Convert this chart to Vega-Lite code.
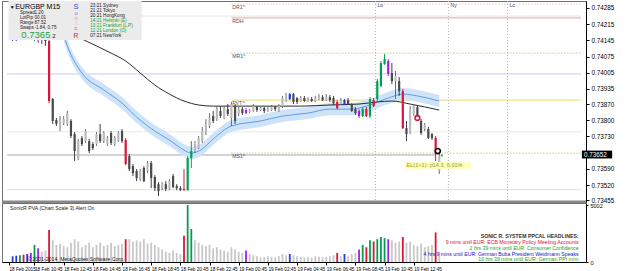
{
"$schema":"https://vega.github.io/schema/vega-lite/v6.json",
"padding":0,
"bounds":"flush",
"spacing":1,
"background":"#ffffff",
"config":{
 "view":{"stroke":"#707070","strokeWidth":1},
 "axis":{"labelFont":"Liberation Sans","labelFontSize":6.3,"labelColor":"#000000","domainColor":"#000000","tickColor":"#000000","tickSize":3,"grid":false,"title":null,"labelOverlap":false},
 "text":{"font":"Liberation Sans"}
},
"resolve":{"scale":{"x":"independent","y":"independent","fill":"independent","stroke":"independent","color":"independent"}},
"datasets":{
"bars":[
{"k":2,"o":0.74151,"h":0.74172,"l":0.74142,"c":0.74164,"t":"blue","v":500},
{"k":3,"o":0.74164,"h":0.74172,"l":0.74142,"c":0.74155,"t":"blue","v":550},
{"k":4,"o":0.74155,"h":0.74181,"l":0.74147,"c":0.74168,"t":"green","v":600},
{"k":5,"o":0.74168,"h":0.74185,"l":0.74151,"c":0.74159,"t":"red","v":650},
{"k":6,"o":0.74159,"h":0.74185,"l":0.74151,"c":0.74172,"t":"blue","v":700},
{"k":7,"o":0.74172,"h":0.74181,"l":0.74155,"c":0.74164,"t":"purple","v":800},
{"k":8,"o":0.74164,"h":0.74172,"l":0.74142,"c":0.74155,"t":"green","v":1500},
{"k":9,"o":0.74155,"h":0.74168,"l":0.74134,"c":0.74159,"t":"purple","v":1200},
{"k":10,"o":0.74159,"h":0.74168,"l":0.74129,"c":0.74151,"t":"dn","v":900},
{"k":11,"o":0.74151,"h":0.74164,"l":0.74121,"c":0.74142,"t":"dn","v":1000},
{"k":12,"o":0.74142,"h":0.74151,"l":0.73874,"c":0.73883,"t":"red","v":2800},
{"k":13,"o":0.73892,"h":0.73896,"l":0.73784,"c":0.73797,"t":"dn","v":1900},
{"k":14,"o":0.73801,"h":0.73810,"l":0.73775,"c":0.73784,"t":"dn","v":1500},
{"k":15,"o":0.73788,"h":0.73818,"l":0.73753,"c":0.73801,"t":"up","v":1600},
{"k":16,"o":0.73788,"h":0.73818,"l":0.73779,"c":0.73805,"t":"up","v":1400},
{"k":17,"o":0.73784,"h":0.73840,"l":0.73775,"c":0.73831,"t":"up","v":1300},
{"k":18,"o":0.73797,"h":0.73805,"l":0.73723,"c":0.73732,"t":"dn","v":1700},
{"k":19,"o":0.73740,"h":0.73749,"l":0.73624,"c":0.73667,"t":"dn","v":2000},
{"k":20,"o":0.73632,"h":0.73719,"l":0.73628,"c":0.73710,"t":"up","v":1800},
{"k":21,"o":0.73723,"h":0.73732,"l":0.73689,"c":0.73697,"t":"dn","v":1300},
{"k":22,"o":0.73710,"h":0.73762,"l":0.73702,"c":0.73753,"t":"up","v":1500},
{"k":23,"o":0.73710,"h":0.73719,"l":0.73658,"c":0.73667,"t":"dn","v":1700},
{"k":24,"o":0.73697,"h":0.73706,"l":0.73671,"c":0.73680,"t":"dn","v":1300},
{"k":25,"o":0.73697,"h":0.73749,"l":0.73689,"c":0.73740,"t":"up","v":1500},
{"k":26,"o":0.73740,"h":0.73784,"l":0.73702,"c":0.73710,"t":"dn","v":1700},
{"k":27,"o":0.73710,"h":0.73753,"l":0.73702,"c":0.73745,"t":"up","v":1400},
{"k":28,"o":0.73697,"h":0.73732,"l":0.73689,"c":0.73723,"t":"up","v":1500},
{"k":29,"o":0.73745,"h":0.73753,"l":0.73693,"c":0.73702,"t":"dn","v":1700},
{"k":30,"o":0.73697,"h":0.73732,"l":0.73689,"c":0.73723,"t":"up","v":1400},
{"k":31,"o":0.73710,"h":0.73753,"l":0.73706,"c":0.73745,"t":"up","v":1500},
{"k":32,"o":0.73753,"h":0.73762,"l":0.73702,"c":0.73710,"t":"dn","v":1600},
{"k":33,"o":0.73715,"h":0.73723,"l":0.73606,"c":0.73611,"t":"red","v":2000},
{"k":34,"o":0.73645,"h":0.73654,"l":0.73581,"c":0.73589,"t":"dn","v":2000},
{"k":35,"o":0.73602,"h":0.73611,"l":0.73559,"c":0.73572,"t":"dn","v":1800},
{"k":36,"o":0.73581,"h":0.73589,"l":0.73537,"c":0.73550,"t":"dn","v":1900},
{"k":37,"o":0.73546,"h":0.73589,"l":0.73537,"c":0.73581,"t":"up","v":1800},
{"k":38,"o":0.73594,"h":0.73602,"l":0.73533,"c":0.73537,"t":"dn","v":2000},
{"k":39,"o":0.73581,"h":0.73624,"l":0.73572,"c":0.73615,"t":"up","v":1600},
{"k":40,"o":0.73615,"h":0.73624,"l":0.73507,"c":0.73550,"t":"dn","v":1700},
{"k":41,"o":0.73555,"h":0.73563,"l":0.73494,"c":0.73507,"t":"dn","v":1500},
{"k":42,"o":0.73524,"h":0.73533,"l":0.73473,"c":0.73494,"t":"dn","v":1300},
{"k":43,"o":0.73507,"h":0.73533,"l":0.73498,"c":0.73524,"t":"up","v":1100},
{"k":44,"o":0.73524,"h":0.73537,"l":0.73494,"c":0.73503,"t":"dn","v":900},
{"k":45,"o":0.73503,"h":0.73546,"l":0.73498,"c":0.73537,"t":"up","v":800},
{"k":46,"o":0.73559,"h":0.73568,"l":0.73507,"c":0.73511,"t":"dn","v":1000},
{"k":47,"o":0.73516,"h":0.73524,"l":0.73498,"c":0.73507,"t":"dn","v":800},
{"k":48,"o":0.73507,"h":0.73516,"l":0.73494,"c":0.73498,"t":"dn","v":700},
{"k":49,"o":0.73503,"h":0.73589,"l":0.73496,"c":0.73498,"t":"red","v":2300},
{"k":50,"o":0.73498,"h":0.73645,"l":0.73496,"c":0.73637,"t":"green","v":5000},
{"k":51,"o":0.73637,"h":0.73710,"l":0.73594,"c":0.73667,"t":"green","v":2900},
{"k":52,"o":0.73667,"h":0.73710,"l":0.73658,"c":0.73702,"t":"up","v":1900},
{"k":53,"o":0.73680,"h":0.73732,"l":0.73676,"c":0.73723,"t":"up","v":1700},
{"k":54,"o":0.73710,"h":0.73771,"l":0.73702,"c":0.73753,"t":"up","v":1500},
{"k":55,"o":0.73749,"h":0.73805,"l":0.73736,"c":0.73784,"t":"up","v":1400},
{"k":56,"o":0.73775,"h":0.73831,"l":0.73766,"c":0.73810,"t":"up","v":1500},
{"k":57,"o":0.73818,"h":0.73840,"l":0.73788,"c":0.73797,"t":"dn","v":1200},
{"k":58,"o":0.73805,"h":0.73861,"l":0.73797,"c":0.73848,"t":"up","v":1300},
{"k":59,"o":0.73840,"h":0.73861,"l":0.73810,"c":0.73818,"t":"dn","v":1100},
{"k":60,"o":0.73810,"h":0.73861,"l":0.73805,"c":0.73853,"t":"up","v":1000},
{"k":61,"o":0.73848,"h":0.73870,"l":0.73818,"c":0.73827,"t":"dn","v":900},
{"k":62,"o":0.73810,"h":0.73879,"l":0.73775,"c":0.73870,"t":"up","v":1300},
{"k":63,"o":0.73861,"h":0.73870,"l":0.73784,"c":0.73797,"t":"dn","v":1100},
{"k":64,"o":0.73827,"h":0.73857,"l":0.73818,"c":0.73848,"t":"up","v":900},
{"k":65,"o":0.73848,"h":0.73857,"l":0.73823,"c":0.73831,"t":"dn","v":800},
{"k":66,"o":0.73844,"h":0.73853,"l":0.73827,"c":0.73831,"t":"purple","v":1000},
{"k":67,"o":0.73836,"h":0.73848,"l":0.73831,"c":0.73840,"t":"up","v":700},
{"k":68,"o":0.73840,"h":0.73870,"l":0.73836,"c":0.73861,"t":"up","v":600},
{"k":69,"o":0.73857,"h":0.73861,"l":0.73836,"c":0.73844,"t":"dn","v":500},
{"k":70,"o":0.73844,"h":0.73861,"l":0.73840,"c":0.73853,"t":"up","v":400},
{"k":71,"o":0.73853,"h":0.73857,"l":0.73831,"c":0.73840,"t":"dn","v":450},
{"k":72,"o":0.73840,"h":0.73857,"l":0.73836,"c":0.73848,"t":"up","v":500},
{"k":73,"o":0.73844,"h":0.73866,"l":0.73840,"c":0.73857,"t":"up","v":450},
{"k":74,"o":0.73857,"h":0.73861,"l":0.73840,"c":0.73848,"t":"dn","v":400},
{"k":75,"o":0.73840,"h":0.73870,"l":0.73836,"c":0.73861,"t":"up","v":500},
{"k":76,"o":0.73861,"h":0.73905,"l":0.73853,"c":0.73896,"t":"up","v":700},
{"k":77,"o":0.73883,"h":0.73918,"l":0.73879,"c":0.73909,"t":"up","v":600},
{"k":78,"o":0.73892,"h":0.73918,"l":0.73887,"c":0.73913,"t":"blue","v":700},
{"k":79,"o":0.73913,"h":0.73918,"l":0.73870,"c":0.73879,"t":"dn","v":600},
{"k":80,"o":0.73896,"h":0.73900,"l":0.73870,"c":0.73879,"t":"dn","v":500},
{"k":81,"o":0.73883,"h":0.73905,"l":0.73879,"c":0.73896,"t":"up","v":450},
{"k":82,"o":0.73896,"h":0.73905,"l":0.73879,"c":0.73883,"t":"dn","v":400},
{"k":83,"o":0.73883,"h":0.73900,"l":0.73879,"c":0.73892,"t":"up","v":450},
{"k":84,"o":0.73892,"h":0.73900,"l":0.73879,"c":0.73883,"t":"dn","v":400},
{"k":85,"o":0.73883,"h":0.73905,"l":0.73879,"c":0.73896,"t":"up","v":500},
{"k":86,"o":0.73892,"h":0.73913,"l":0.73887,"c":0.73900,"t":"up","v":450},
{"k":87,"o":0.73900,"h":0.73909,"l":0.73883,"c":0.73887,"t":"dn","v":400},
{"k":88,"o":0.73887,"h":0.73913,"l":0.73883,"c":0.73900,"t":"up","v":450},
{"k":89,"o":0.73900,"h":0.73909,"l":0.73879,"c":0.73887,"t":"dn","v":500},
{"k":90,"o":0.73896,"h":0.73905,"l":0.73866,"c":0.73874,"t":"dn","v":600},
{"k":91,"o":0.73879,"h":0.73887,"l":0.73848,"c":0.73853,"t":"red","v":800},
{"k":92,"o":0.73870,"h":0.73896,"l":0.73866,"c":0.73887,"t":"up","v":500},
{"k":93,"o":0.73870,"h":0.73892,"l":0.73866,"c":0.73887,"t":"blue","v":700},
{"k":94,"o":0.73887,"h":0.73896,"l":0.73866,"c":0.73870,"t":"dn","v":500},
{"k":95,"o":0.73870,"h":0.73874,"l":0.73836,"c":0.73840,"t":"dn","v":700},
{"k":96,"o":0.73848,"h":0.73857,"l":0.73823,"c":0.73831,"t":"dn","v":800},
{"k":97,"o":0.73840,"h":0.73848,"l":0.73810,"c":0.73818,"t":"purple","v":1100},
{"k":98,"o":0.73818,"h":0.73857,"l":0.73814,"c":0.73848,"t":"green","v":1500},
{"k":99,"o":0.73848,"h":0.73857,"l":0.73814,"c":0.73818,"t":"red","v":1300},
{"k":100,"o":0.73818,"h":0.73900,"l":0.73810,"c":0.73892,"t":"green","v":1900},
{"k":101,"o":0.73887,"h":0.73896,"l":0.73857,"c":0.73861,"t":"red","v":1800},
{"k":102,"o":0.73892,"h":0.73978,"l":0.73883,"c":0.73969,"t":"green","v":2000},
{"k":103,"o":0.73948,"h":0.74056,"l":0.73944,"c":0.74047,"t":"green","v":2200},
{"k":104,"o":0.74043,"h":0.74086,"l":0.74039,"c":0.74064,"t":"green","v":2100},
{"k":105,"o":0.74056,"h":0.74064,"l":0.73991,"c":0.74000,"t":"purple","v":2000},
{"k":106,"o":0.74004,"h":0.74047,"l":0.73956,"c":0.73969,"t":"dn","v":1900},
{"k":107,"o":0.73969,"h":0.74013,"l":0.73892,"c":0.73991,"t":"up","v":1700},
{"k":108,"o":0.73969,"h":0.73987,"l":0.73905,"c":0.73926,"t":"dn","v":1800},
{"k":109,"o":0.73926,"h":0.73935,"l":0.73762,"c":0.73766,"t":"red","v":2200},
{"k":110,"o":0.73766,"h":0.73797,"l":0.73710,"c":0.73740,"t":"dn","v":1700},
{"k":111,"o":0.73745,"h":0.73861,"l":0.73740,"c":0.73848,"t":"up","v":1800},
{"k":112,"o":0.73827,"h":0.73870,"l":0.73818,"c":0.73861,"t":"up","v":1500},
{"k":113,"o":0.73857,"h":0.73866,"l":0.73797,"c":0.73805,"t":"dn","v":1400},
{"k":114,"o":0.73797,"h":0.73805,"l":0.73736,"c":0.73745,"t":"dn","v":1600},
{"k":115,"o":0.73762,"h":0.73788,"l":0.73753,"c":0.73779,"t":"up","v":1300},
{"k":116,"o":0.73762,"h":0.73771,"l":0.73719,"c":0.73723,"t":"dn","v":1400},
{"k":117,"o":0.73740,"h":0.73745,"l":0.73715,"c":0.73723,"t":"dn","v":1500},
{"k":118,"o":0.73723,"h":0.73732,"l":0.73624,"c":0.73654,"t":"red","v":2600},
{"k":119,"o":0.73581,"h":0.73658,"l":0.73568,"c":0.73645,"t":"up","v":900}
],
"ma":[
{"k":10,"p":0.74246},{"k":15,"p":0.74207},{"k":20,"p":0.74159},{"k":25,"p":0.74121},{"k":29,"p":0.74090},{"k":33,"p":0.74056},{"k":37,"p":0.74004},{"k":41,"p":0.73952},{"k":45,"p":0.73913},{"k":49,"p":0.73883},{"k":53,"p":0.73866},{"k":57,"p":0.73861},{"k":65,"p":0.73861},{"k":73,"p":0.73861},{"k":81,"p":0.73861},{"k":89,"p":0.73866},{"k":97,"p":0.73870},{"k":102,"p":0.73879},{"k":106,"p":0.73883},{"k":111,"p":0.73870},{"k":119,"p":0.73844}
],
"band":[
{"k":12,"m":0.74358,"hi":0.74384,"lo":0.74332},
{"k":13,"m":0.74302,"hi":0.74328,"lo":0.74276},
{"k":15,"m":0.74220,"hi":0.74246,"lo":0.74194},
{"k":17,"m":0.74121,"hi":0.74147,"lo":0.74095},
{"k":21,"m":0.74004,"hi":0.74030,"lo":0.73978},
{"k":27,"m":0.73931,"hi":0.73957,"lo":0.73905},
{"k":32,"m":0.73874,"hi":0.73900,"lo":0.73848},
{"k":36,"m":0.73814,"hi":0.73840,"lo":0.73788},
{"k":41,"m":0.73753,"hi":0.73779,"lo":0.73727},
{"k":45,"m":0.73715,"hi":0.73741,"lo":0.73689},
{"k":49,"m":0.73671,"hi":0.73697,"lo":0.73645},
{"k":51,"m":0.73658,"hi":0.73684,"lo":0.73632},
{"k":54,"m":0.73676,"hi":0.73702,"lo":0.73650},
{"k":57,"m":0.73719,"hi":0.73745,"lo":0.73693},
{"k":62,"m":0.73775,"hi":0.73801,"lo":0.73749},
{"k":70,"m":0.73797,"hi":0.73823,"lo":0.73771},
{"k":76,"m":0.73818,"hi":0.73844,"lo":0.73792},
{"k":83,"m":0.73831,"hi":0.73857,"lo":0.73805},
{"k":89,"m":0.73848,"hi":0.73874,"lo":0.73822},
{"k":95,"m":0.73848,"hi":0.73874,"lo":0.73822},
{"k":99,"m":0.73861,"hi":0.73887,"lo":0.73835},
{"k":105,"m":0.73896,"hi":0.73922,"lo":0.73870},
{"k":109,"m":0.73913,"hi":0.73939,"lo":0.73887},
{"k":113,"m":0.73905,"hi":0.73931,"lo":0.73879},
{"k":119,"m":0.73883,"hi":0.73909,"lo":0.73857}
]
},
"vconcat":[
{
 "width":584,"height":201,
 "resolve":{"scale":{"color":"independent","fill":"independent","stroke":"independent"}},
 "layer":[
  {"data":{"values":[{"p":0.7425,"lv":"a"},{"p":0.74,"lv":"b"},{"p":0.7375,"lv":"c"},{"p":0.735,"lv":"d"}]},
   "mark":{"type":"rule","strokeWidth":1},
   "encoding":{
    "x":{"datum":0.46,"type":"quantitative","scale":{"domain":[0.46,157.86],"nice":false,"zero":false},"axis":null},
    "x2":{"datum":157.86},
    "y":{"field":"p","type":"quantitative","scale":{"domain":[0.73447,0.74315],"nice":false,"zero":false},
      "axis":{"orient":"right","values":[0.74285,0.74215,0.74145,0.74075,0.74005,0.73935,0.7387,0.738,0.7373,0.7359,0.7352,0.73455],"tickCount":30,"format":".5f","labelPadding":2,"labelOverlap":false,"labelBound":false,"labelFlush":false}},
    "color":{"field":"lv","type":"nominal","scale":{"domain":["a","b","c","d"],"range":["#e6e6e6","#c8c8f2","#e2eed9","#cdeccd"]},"legend":null}}},
  {"data":{"values":[{}]},"mark":{"type":"rule","color":"#a8a8a8","strokeWidth":1},
   "encoding":{"x":{"datum":0.46},"x2":{"datum":118},"y":{"datum":0.7365}}},
  {"data":{"values":[{"p":0.74302}]},"mark":{"type":"rule","color":"#f0a898","strokeDash":[1,2],"strokeWidth":1},
   "encoding":{"x":{"datum":62},"x2":{"datum":157.86},"y":{"field":"p","type":"quantitative"}}},
  {"data":{"values":[{"p":0.74242}]},"mark":{"type":"rule","color":"#f2a393","strokeWidth":1},
   "encoding":{"x":{"datum":62},"x2":{"datum":157.86},"y":{"field":"p","type":"quantitative"}}},
  {"data":{"values":[{"p":0.7409},{"p":0.73658}]},"mark":{"type":"rule","color":"#b4b44a","strokeDash":[1,2],"strokeWidth":1},
   "encoding":{"x":{"datum":62},"x2":{"datum":157.86},"y":{"field":"p","type":"quantitative"}}},
  {"data":{"values":[{"p":0.73887}]},"mark":{"type":"rule","color":"#eadc78","strokeWidth":1},
   "encoding":{"x":{"datum":62},"x2":{"datum":157.86},"y":{"field":"p","type":"quantitative"}}},
  {"data":{"values":[{"name":"DR1^","p":0.74302},{"name":"RDH","p":0.74242},{"name":"MR1^","p":0.7409},{"name":"PVT^","p":0.73887},{"name":"MS1^","p":0.73658}]},
   "mark":{"type":"text","align":"left","baseline":"top","fontSize":5.2,"color":"#505078","dy":1},
   "encoding":{"x":{"datum":62.2},"y":{"field":"p","type":"quantitative"},"text":{"field":"name"}}},
  {"data":{"values":[{"k":101.5,"lab":"Lo"},{"k":121.5,"lab":"Ny"},{"k":137.7,"lab":"Lc"}]},
   "mark":{"type":"rule","color":"#b8b8b8","strokeDash":[1,2],"strokeWidth":1},
   "encoding":{"x":{"field":"k","type":"quantitative"}}},
  {"data":{"values":[{"k":101.5,"lab":"Lo"},{"k":121.5,"lab":"Ny"},{"k":137.7,"lab":"Lc"}]},
   "mark":{"type":"text","align":"left","baseline":"top","fontSize":5.2,"color":"#505078","dx":2},
   "encoding":{"x":{"field":"k","type":"quantitative"},"y":{"datum":0.74306},"text":{"field":"lab"}}},
  {"data":{"name":"band"},"mark":{"type":"area","color":"#cfe3f8","opacity":1,"clip":true,"interpolate":"monotone"},
   "encoding":{"x":{"field":"k","type":"quantitative"},"y":{"field":"hi","type":"quantitative"},"y2":{"field":"lo"}}},
  {"data":{"name":"band"},"mark":{"type":"line","color":"#5d9ee8","strokeWidth":1,"clip":true,"interpolate":"monotone"},
   "encoding":{"x":{"field":"k","type":"quantitative"},"y":{"field":"m","type":"quantitative"}}},
  {"data":{"name":"ma"},"mark":{"type":"line","color":"#2a2a2a","strokeWidth":1,"clip":true,"interpolate":"monotone"},
   "encoding":{"x":{"field":"k","type":"quantitative"},"y":{"field":"p","type":"quantitative"}}},
  {"data":{"name":"bars"},"mark":{"type":"rule","strokeWidth":1,"clip":true},
   "encoding":{"x":{"field":"k","type":"quantitative"},"y":{"field":"l","type":"quantitative"},"y2":{"field":"h"},
    "stroke":{"field":"t","type":"nominal","scale":{"domain":["up","dn","red","green","blue","purple"],"range":["#6a6a7a","#3c3c4c","#dc143c","#00a050","#1f3ce6","#a020f0"]},"legend":null}}},
  {"data":{"name":"bars"},"mark":{"type":"bar","size":2.2,"clip":true},
   "encoding":{"x":{"field":"k","type":"quantitative"},"y":{"field":"o","type":"quantitative"},"y2":{"field":"c"},
    "fill":{"field":"t","type":"nominal","scale":{"domain":["up","dn","red","green","blue","purple"],"range":["#bcbcbc","#4a4a4a","#dc143c","#00a050","#1f3ce6","#a020f0"]},"legend":null}}},
  {"data":{"values":[{}]},"mark":{"type":"point","shape":"circle","filled":true,"fill":"#ffffff","stroke":"#dc143c","strokeWidth":1.6,"size":22,"opacity":1},
   "encoding":{"x":{"datum":113},"y":{"datum":0.7381}}},
  {"data":{"values":[{}]},"mark":{"type":"point","shape":"circle","filled":true,"fill":"#ffffff","stroke":"#000000","strokeWidth":1.6,"size":26,"opacity":1},
   "encoding":{"x":{"datum":118.6},"y":{"datum":0.73667}}},
  {"data":{"values":[{}]},"mark":{"type":"point","shape":"circle","filled":true,"color":"#00c040","size":5,"opacity":1},
   "encoding":{"x":{"datum":119.7},"y":{"datum":0.73648}}},
  {"data":{"values":[{}]},"mark":{"type":"rect","color":"#ffffc0"},
   "encoding":{"x":{"datum":109.6},"x2":{"datum":127.7},"y":{"datum":0.73621},"y2":{"datum":0.73589}}},
  {"data":{"values":[{}]},"mark":{"type":"text","align":"left","baseline":"middle","fontSize":5.6,"color":"#9a9a20","text":"EL(1>1): p14.3, 6.01%"},
   "encoding":{"x":{"datum":110},"y":{"datum":0.73605}}},
  {"data":{"values":[{}]},"mark":{"type":"rule","color":"#888888","strokeWidth":3},
   "encoding":{"y":{"datum":0.73447}}},
  {"data":{"values":[{}]},"mark":{"type":"rect","color":"#ebebeb"},
   "encoding":{"x":{"datum":0.9},"x2":{"datum":37.4},"y":{"datum":0.74315},"y2":{"datum":0.74147}}},
  {"data":{"values":[{}]},"mark":{"type":"text","align":"left","baseline":"middle","fontSize":5,"color":"#000000","text":"▼"},
   "encoding":{"x":{"datum":1.2},"y":{"datum":0.74291}}},
  {"data":{"values":[{}]},"mark":{"type":"text","align":"left","baseline":"middle","fontSize":7,"color":"#000000","text":"EURGBP   M15"},
   "encoding":{"x":{"datum":2.7},"y":{"datum":0.74289}}},
  {"data":{"values":[{}]},"mark":{"type":"text","align":"left","baseline":"top","fontSize":4.6,"lineHeight":5,"color":"#202020","text":["Spread","LotPip","Range","Swaps"]},
   "encoding":{"x":{"datum":4},"y":{"datum":0.74276}}},
  {"data":{"values":[{}]},"mark":{"type":"text","align":"left","baseline":"top","fontSize":4.6,"lineHeight":5,"color":"#202020","text":["1.20","00.01","87.52","-1.84, 0.75"]},
   "encoding":{"x":{"datum":8},"y":{"datum":0.74276}}},
  {"data":{"values":[{}]},"mark":{"type":"text","align":"left","baseline":"middle","fontSize":9.5,"color":"#1e9e3c","text":"0.7365"},
   "encoding":{"x":{"datum":4.4},"y":{"datum":0.74168}}},
  {"data":{"values":[{}]},"mark":{"type":"text","align":"left","baseline":"middle","fontSize":6,"color":"#202020","text":"2"},
   "encoding":{"x":{"datum":12.9},"y":{"datum":0.74164}}},
  {"data":{"values":[{}]},"mark":{"type":"text","align":"center","baseline":"middle","fontSize":7.5,"color":"#4040d8","text":"S"},
   "encoding":{"x":{"datum":19.4},"y":{"datum":0.74289}}},
  {"data":{"values":[{}]},"mark":{"type":"text","align":"center","baseline":"middle","fontSize":5.8,"color":"#9a70e0","text":"o"},
   "encoding":{"x":{"datum":19.4},"y":{"datum":0.74263}}},
  {"data":{"values":[{}]},"mark":{"type":"text","align":"center","baseline":"middle","fontSize":5.8,"color":"#c0a0e0","text":"n"},
   "encoding":{"x":{"datum":19.4},"y":{"datum":0.74240}}},
  {"data":{"values":[{}]},"mark":{"type":"text","align":"center","baseline":"middle","fontSize":5.8,"color":"#e8a0b8","text":"i"},
   "encoding":{"x":{"datum":19.4},"y":{"datum":0.74218}}},
  {"data":{"values":[{}]},"mark":{"type":"text","align":"center","baseline":"middle","fontSize":5.8,"color":"#e05070","text":"c"},
   "encoding":{"x":{"datum":19.4},"y":{"datum":0.74197}}},
  {"data":{"values":[{}]},"mark":{"type":"text","align":"center","baseline":"middle","fontSize":7,"color":"#e0203c","text":"R"},
   "encoding":{"x":{"datum":19.4},"y":{"datum":0.74163}}},
  {"data":{"values":[{"t":"23:21  Sydney","p":0.74295},{"t":"21:21  Tokyo","p":0.74273},{"t":"20:21  HongKong","p":0.74251},{"t":"07:21  NewYork","p":0.74165}]},
   "mark":{"type":"text","align":"left","baseline":"middle","fontSize":4.6,"color":"#202020"},
   "encoding":{"x":{"datum":23.3},"y":{"field":"p","type":"quantitative"},"text":{"field":"t"}}},
  {"data":{"values":[{"t":"14:21  Helsinki (E)","p":0.74230},{"t":"13:21  Frankfurt (L,P)","p":0.74208},{"t":"12:21  London (O)","p":0.74187}]},
   "mark":{"type":"text","align":"left","baseline":"middle","fontSize":4.6,"color":"#20a020"},
   "encoding":{"x":{"datum":23.3},"y":{"field":"p","type":"quantitative"},"text":{"field":"t"}}},
  {"data":{"values":[{}]},"mark":{"type":"rect","color":"#000000"},
   "encoding":{"x":{"datum":158.1},"x2":{"datum":166.4},"y":{"datum":0.73669},"y2":{"datum":0.73635}}},
  {"data":{"values":[{}]},"mark":{"type":"text","align":"left","baseline":"middle","fontSize":6.3,"color":"#ffffff","text":"0.73652"},
   "encoding":{"x":{"datum":158.7},"y":{"datum":0.73652}}}
 ]
},
{
 "width":584,"height":59,
 "layer":[
  {"data":{"name":"bars"},"mark":{"type":"bar","size":1.8},
   "encoding":{
    "x":{"field":"k","type":"quantitative","scale":{"domain":[0.46,157.86],"nice":false,"zero":false},
      "axis":{"orient":"bottom","values":[1,8,16,24,32,40,48,56,64,72,80,88,96,104,112],"tickCount":30,"labelAlign":"left","labelDx":1,"labelPadding":1,"labelFontSize":4.7,"labelOverlap":false,"labelBound":false,"labelFlush":false,
       "labelExpr":"['18 Feb 2015','18 Feb 10:45','18 Feb 12:45','18 Feb 14:45','18 Feb 16:45','18 Feb 18:45','18 Feb 20:45','18 Feb 22:45','19 Feb 00:45','19 Feb 02:45','19 Feb 04:45','19 Feb 06:45','19 Feb 08:45','19 Feb 10:45','19 Feb 12:45'][floor(datum.value/8)]"}},
    "y":{"field":"v","type":"quantitative","scale":{"domain":[0,5180],"nice":false,"zero":true},"axis":{"orient":"right","values":[0,5002],"format":"d","labelFontSize":5.5,"tickSize":2,"labelPadding":2,"labelOverlap":false}},
    "fill":{"field":"t","type":"nominal","scale":{"domain":["up","dn","red","green","blue","purple"],"range":["#c8c8c8","#c8c8c8","#dc143c","#00a050","#1f3ce6","#a020f0"]},"legend":null}}},
  {"data":{"values":[{}]},"mark":{"type":"text","align":"left","baseline":"middle","fontSize":5.2,"color":"#202020","text":"SonicR PVA  (Chart Scale 3)   Alert On"},
   "encoding":{"x":{"datum":1.3},"y":{"datum":4741}}},
  {"data":{"values":[{}]},"mark":{"type":"text","align":"left","baseline":"middle","fontSize":5.2,"color":"#202020","text":"© 2001-2014, MetaQuotes Software Corp."},
   "encoding":{"x":{"datum":6},"y":{"datum":220}}},
  {"data":{"values":[{}]},"mark":{"type":"text","align":"right","baseline":"middle","fontSize":5.2,"fontWeight":"bold","color":"#303030","text":"SONIC R. SYSTEM PPCAL HEADLINES:"},
   "encoding":{"x":{"datum":157.2},"y":{"datum":2283}}},
  {"data":{"values":[{}]},"mark":{"type":"text","align":"right","baseline":"middle","fontSize":5.2,"color":"#e0103c","text":"9 mins until EUR: ECB Monetary Policy Meeting Accounts"},
   "encoding":{"x":{"datum":157.2},"y":{"datum":1756}}},
  {"data":{"values":[{}]},"mark":{"type":"text","align":"right","baseline":"middle","fontSize":5.2,"color":"#20a020","text":"2 hrs 39 mins until EUR: Consumer Confidence"},
   "encoding":{"x":{"datum":157.2},"y":{"datum":1229}}},
  {"data":{"values":[{}]},"mark":{"type":"text","align":"right","baseline":"middle","fontSize":5.2,"color":"#2020c0","text":"4 hrs 9 mins until EUR: German Buba President Weidmann Speaks"},
   "encoding":{"x":{"datum":157.2},"y":{"datum":702}}},
  {"data":{"values":[{}]},"mark":{"type":"text","align":"right","baseline":"middle","fontSize":5.2,"color":"#20a020","text":"10 hrs 39 mins until EUR: German PPI m/m"},
   "encoding":{"x":{"datum":157.2},"y":{"datum":263}}}
 ]
}
]
}
